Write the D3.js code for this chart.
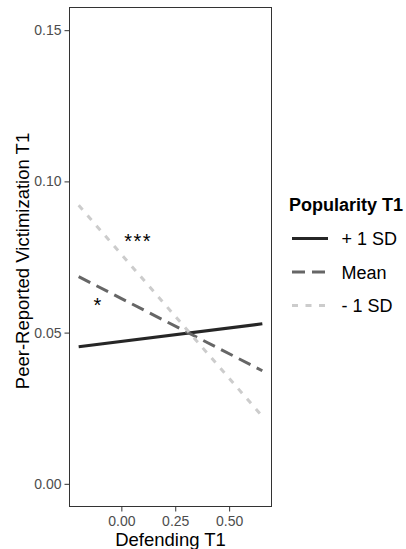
<!DOCTYPE html>
<html>
<head>
<meta charset="utf-8">
<script src="https://cdn.jsdelivr.net/npm/d3@7"></script>
<style>
  body { margin: 0; background: #fff; }
  svg { font-family: "Liberation Sans", Arial, sans-serif; }
</style>
</head>
<body>
<svg width="406" height="549"></svg>
<script>
// Data: predicted victimization at low/high defending for each popularity level
const groups = ['+ 1 SD', 'Mean', '- 1 SD'];
const defendingRange = [-0.198, 0.654];
const plusSD = [0.0453, 0.0529];
const meanVals = [0.0685, 0.0374];
const minusSD = [0.0921, 0.0223];
const xTicks = [0, 0.25, 0.5];
const yTicks = [0, 0.05, 0.10, 0.15];
const stars = [
  { label: '***', x: 0.073, y: 0.0813 },
  { label: '*', x: -0.112, y: 0.0603 }
];

const series = [
  { name: groups[0], values: plusSD, color: '#262626', dash: null },
  { name: groups[1], values: meanVals, color: '#666666', dash: '13,7' },
  { name: groups[2], values: minusSD, color: '#cccccc', dash: '6,7.5' }
];

const svg = d3.select('svg');
const panel = { left: 69.5, right: 271.5, top: 7.5, bottom: 506.5 };

// Scales with ggplot-like 5% expansion
const xPad = (defendingRange[1] - defendingRange[0]) * 0.05;
const x = d3.scaleLinear()
  .domain([defendingRange[0] - xPad, defendingRange[1] + xPad])
  .range([panel.left, panel.right]);
const y = d3.scaleLinear()
  .domain([-0.0075, 0.1575])
  .range([panel.bottom, panel.top]);

// Panel border
svg.append('rect')
  .attr('x', panel.left).attr('y', panel.top)
  .attr('width', panel.right - panel.left)
  .attr('height', panel.bottom - panel.top)
  .attr('fill', 'none').attr('stroke', '#333').attr('stroke-width', 1);

// Axes
const xAxis = svg.append('g')
  .attr('transform', `translate(0,${panel.bottom})`)
  .call(d3.axisBottom(x).tickValues(xTicks).tickFormat(d3.format('.2f')).tickSize(5).tickPadding(5));
const yAxis = svg.append('g')
  .attr('transform', `translate(${panel.left},0)`)
  .call(d3.axisLeft(y).tickValues(yTicks).tickFormat(d3.format('.2f')).tickSize(5).tickPadding(3));

[xAxis, yAxis].forEach(a => {
  a.select('.domain').remove();
  a.selectAll('.tick line').attr('stroke', '#333');
  a.selectAll('.tick text').attr('fill', '#4d4d4d').style('font-size', '14px')
    .style('font-family', '"Liberation Sans", Arial, sans-serif');
});

// Axis titles
svg.append('text')
  .attr('x', (panel.left + panel.right) / 2).attr('y', 545.5)
  .attr('text-anchor', 'middle').style('font-size', '18.5px')
  .text('Defending T1');
svg.append('text')
  .attr('transform', `translate(28.5,${(panel.top + panel.bottom) / 2 + 4}) rotate(-90)`)
  .attr('text-anchor', 'middle').style('font-size', '18.5px')
  .text('Peer-Reported Victimization T1');

// Lines
const line = d3.line()
  .x((d, i) => x(defendingRange[i]))
  .y(d => y(d));

series.forEach(s => {
  svg.append('path')
    .datum(s.values)
    .attr('d', line)
    .attr('fill', 'none')
    .attr('stroke', s.color)
    .attr('stroke-width', 3)
    .attr('stroke-dasharray', s.dash);
});

// Significance stars (y is the visual centre of the glyphs)
stars.forEach(s => {
  svg.append('text')
    .attr('x', x(s.x) + 1).attr('y', y(s.y))
    .attr('dy', '0.52em')
    .attr('text-anchor', 'middle')
    .style('font-size', '20px')
    .style('letter-spacing', '1.5px')
    .text(s.label);
});

// Legend
const legend = svg.append('g');
legend.append('text')
  .attr('x', 289).attr('y', 210.5)
  .style('font-size', '18px').style('font-weight', 'bold')
  .text('Popularity T1');

series.forEach((s, i) => {
  const ly = 238.5 + i * 33.5;
  legend.append('line')
    .attr('x1', 292).attr('x2', 328)
    .attr('y1', ly).attr('y2', ly)
    .attr('stroke', s.color).attr('stroke-width', 3)
    .attr('stroke-dasharray', s.dash);
  legend.append('text')
    .attr('x', 341.5).attr('y', ly + 6.5)
    .style('font-size', '18px')
    .text(s.name);
});
</script>
</body>
</html>
